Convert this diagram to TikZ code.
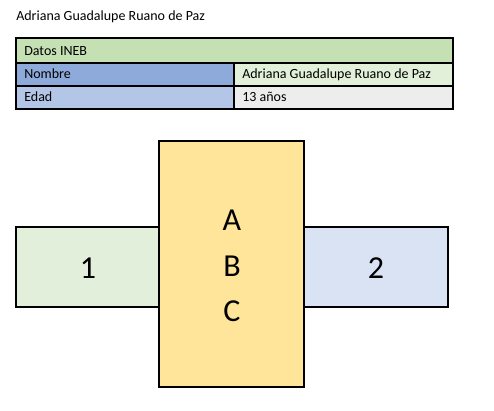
\documentclass[tikz,border=0pt]{standalone}
\usepackage{fontspec}
\setmainfont{Carlito}
\definecolor{hdr}{HTML}{C5E0B3}
\definecolor{nomL}{HTML}{8EAADB}
\definecolor{nomR}{HTML}{E2EFD9}
\definecolor{edaL}{HTML}{B4C6E7}
\definecolor{edaR}{HTML}{EDEDED}
\definecolor{boxG}{HTML}{E2EFDA}
\definecolor{boxY}{HTML}{FFE599}
\definecolor{boxB}{HTML}{DAE3F3}
\begin{document}
\begin{tikzpicture}[x=0.75pt,y=-0.75pt,
  cell/.style={draw=black,line width=0.9pt},
  ctext/.style={anchor=base west,inner sep=0pt,font=\fontsize{10.5}{12}\selectfont},
  bigbox/.style={draw=black,line width=0.9pt,inner sep=0pt},
  bigtext/.style={font=\fontsize{24}{34}\selectfont,align=center}]
\useasboundingbox (0,0) rectangle (494,411);
\node[ctext] (title) at (16,20) {Adriana Guadalupe Ruano de Paz};
% table
\path[cell,fill=hdr] (16,38) rectangle (453,63);
\path[cell,fill=nomL] (16,63) rectangle (234,86);
\path[cell,fill=nomR] (234,63) rectangle (453,86);
\path[cell,fill=edaL] (16,86) rectangle (234,109);
\path[cell,fill=edaR] (234,86) rectangle (453,109);
\node[ctext] (datos) at (24,55) {Datos INEB};
\node[ctext] (nombre) at (24,78) {Nombre};
\node[ctext] (nombreV) at (242,78) {Adriana Guadalupe Ruano de Paz};
\node[ctext] (edad) at (24,101) {Edad};
\node[ctext] (edadV) at (242,101) {13 años};
% boxes
\path[bigbox,fill=boxG] (16,227) rectangle (159,307);
\path[bigbox,fill=boxB] (304,227) rectangle (448,307);
\path[bigbox,fill=boxY] (159,141) rectangle (304,387);
\node[bigtext] (one) at (88,268) {1};
\node[bigtext] (two) at (376,268) {2};
\node[bigtext] (abc) at (232,266) {A\\B\\C};
\end{tikzpicture}
\end{document}
